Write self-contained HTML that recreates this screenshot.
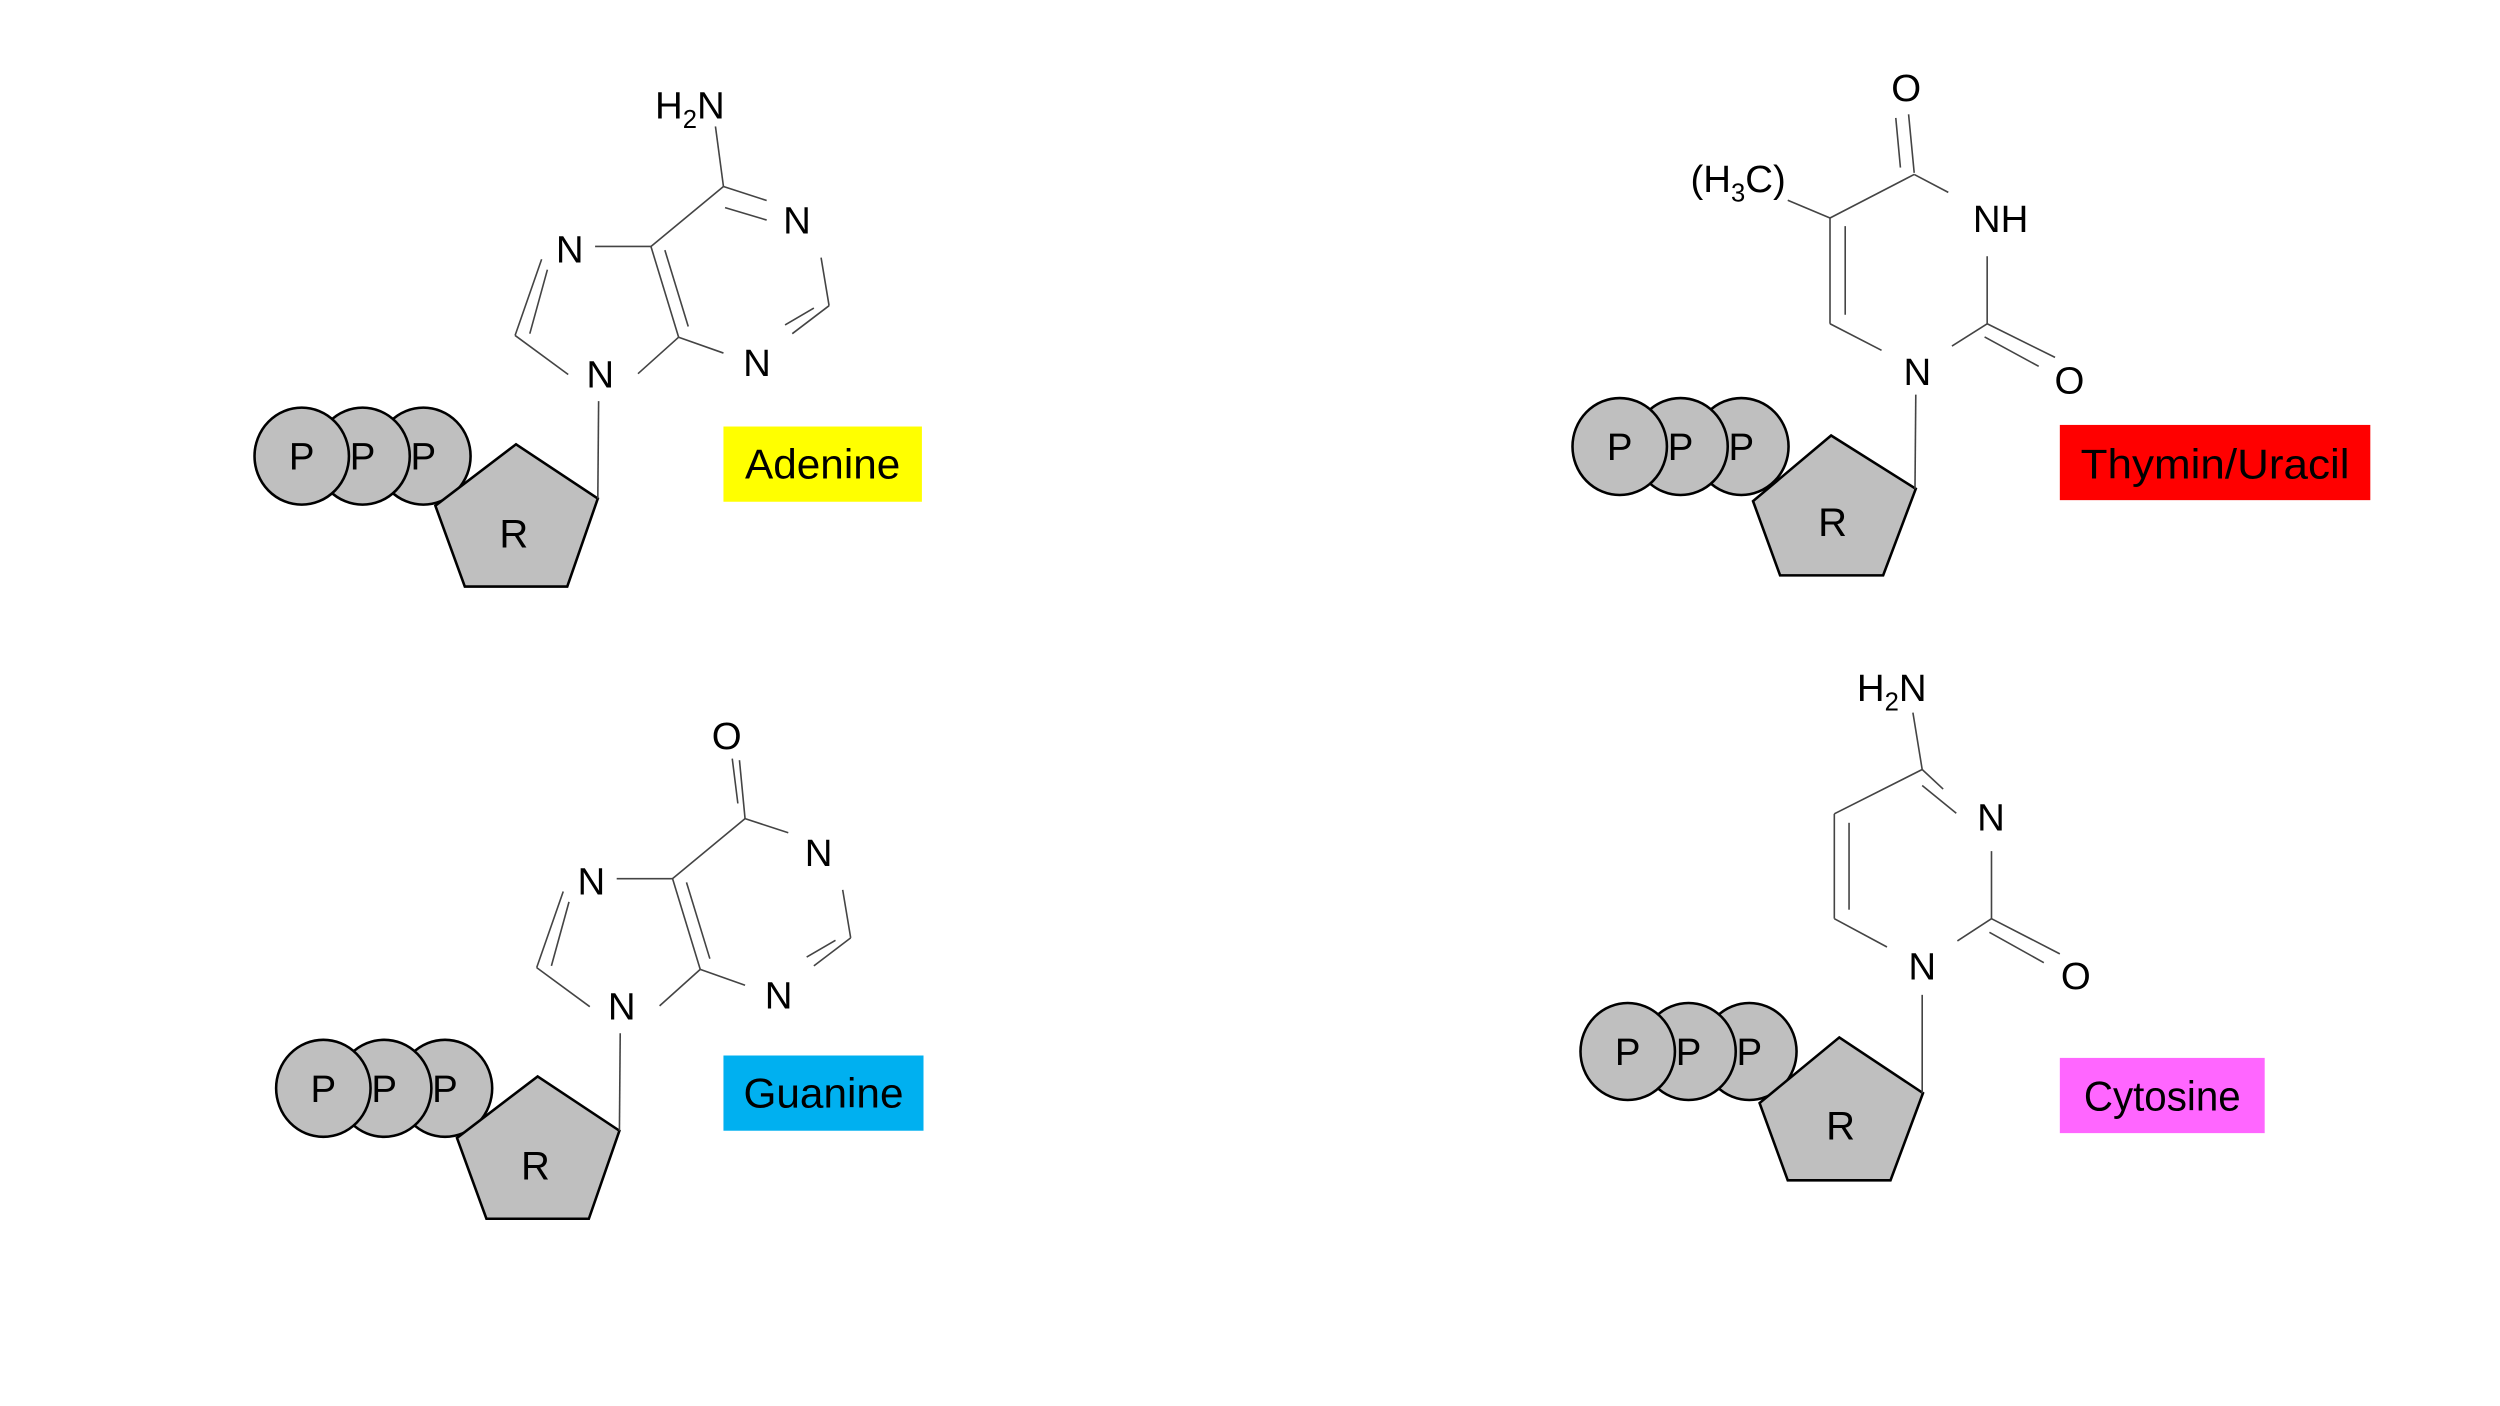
<!DOCTYPE html>
<html><head><meta charset="utf-8"><style>
html,body{margin:0;padding:0;background:#fff;}
svg{display:block;}
text{font-family:"Liberation Sans",sans-serif;fill:#000;}
</style></head><body>
<svg width="2500" height="1406" viewBox="0 0 1562 878.5" xmlns="http://www.w3.org/2000/svg">
<rect width="1562" height="878.5" fill="#fff"/>
<defs>
<g id="ppp">
  <ellipse cx="76" cy="0" rx="29.5" ry="30.3" fill="#bfbfbf" stroke="#000" stroke-width="1.6"/>
  <ellipse cx="38" cy="0" rx="29.5" ry="30.3" fill="#bfbfbf" stroke="#000" stroke-width="1.6"/>
  <ellipse cx="0" cy="0" rx="29.5" ry="30.3" fill="#bfbfbf" stroke="#000" stroke-width="1.6"/>
  <text x="0" y="8.5" font-size="24" text-anchor="middle">P</text>
  <text x="38" y="8.5" font-size="24" text-anchor="middle">P</text>
  <text x="76" y="8.5" font-size="24" text-anchor="middle">P</text>
</g>
</defs>
<g transform="translate(-2,-2)">
<!-- ============ ADENINE ============ -->
<g>
<use href="#ppp" x="190.5" y="287"/>
<polygon points="324.4,279.6 375.5,313.5 356.4,368.5 292.4,368.5 274,318" fill="#bfbfbf" stroke="#000" stroke-width="1.6" stroke-linejoin="miter"/>
<text x="323" y="344" font-size="25" text-anchor="middle">R</text>
<g stroke="#444" stroke-width="1" fill="none">
<line x1="376" y1="252.6" x2="375.5" y2="313.5"/>
<line x1="449" y1="81" x2="454" y2="118.5"/>
<line x1="454" y1="118.5" x2="481" y2="127.3"/>
<line x1="455" y1="131.7" x2="481" y2="139.5"/>
<line x1="515" y1="163" x2="520" y2="193"/>
<line x1="520" y1="193" x2="497" y2="210.5"/>
<line x1="510.5" y1="194.5" x2="492.5" y2="205"/>
<line x1="426" y1="212.7" x2="454" y2="222.6"/>
<line x1="408.7" y1="156" x2="426" y2="212.7"/>
<line x1="417.4" y1="158.3" x2="432" y2="206"/>
<line x1="408.7" y1="156" x2="454" y2="118.5"/>
<line x1="408.7" y1="156" x2="373.8" y2="156"/>
<line x1="340.4" y1="164" x2="323.8" y2="211.6"/>
<line x1="344" y1="170.5" x2="333" y2="210.5"/>
<line x1="323.8" y1="211.6" x2="357" y2="236"/>
<line x1="400.6" y1="235.5" x2="426" y2="212.7"/>
</g>
<text x="433" y="76" font-size="24" text-anchor="middle">H<tspan font-size="16" dy="6">2</tspan><tspan font-size="24" dy="-6">N</tspan></text>
<text x="500" y="148" font-size="24" text-anchor="middle">N</text>
<text x="475" y="237" font-size="24" text-anchor="middle">N</text>
<text x="358" y="166" font-size="24" text-anchor="middle">N</text>
<text x="377" y="244" font-size="24" text-anchor="middle">N</text>
<rect x="454" y="268.5" width="124" height="47" fill="#ffff00"/>
<text x="516" y="301" font-size="26" text-anchor="middle" textLength="97" lengthAdjust="spacingAndGlyphs">Adenine</text>
</g>

<!-- ============ GUANINE ============ -->
<g>
<g transform="translate(13.5,395)">
<use href="#ppp" x="190.5" y="287"/>
<polygon points="324.4,279.6 375.5,313.5 356.4,368.5 292.4,368.5 274,318" fill="#bfbfbf" stroke="#000" stroke-width="1.6"/>
<text x="323" y="344" font-size="25" text-anchor="middle">R</text>
<g stroke="#444" stroke-width="1" fill="none">
<line x1="376" y1="252.6" x2="375.5" y2="313.5"/>
<line x1="454" y1="118.5" x2="481" y2="127.3"/>
<line x1="515" y1="163" x2="520" y2="193"/>
<line x1="520" y1="193" x2="497" y2="210.5"/>
<line x1="510.5" y1="194.5" x2="492.5" y2="205"/>
<line x1="426" y1="212.7" x2="454" y2="222.6"/>
<line x1="408.7" y1="156" x2="426" y2="212.7"/>
<line x1="417.4" y1="158.3" x2="432" y2="206"/>
<line x1="408.7" y1="156" x2="454" y2="118.5"/>
<line x1="408.7" y1="156" x2="373.8" y2="156"/>
<line x1="340.4" y1="164" x2="323.8" y2="211.6"/>
<line x1="344" y1="170.5" x2="333" y2="210.5"/>
<line x1="323.8" y1="211.6" x2="357" y2="236"/>
<line x1="400.6" y1="235.5" x2="426" y2="212.7"/>
<line x1="454" y1="118.5" x2="450.5" y2="82"/>
<line x1="449.5" y1="109" x2="446" y2="81"/>
</g>
<text x="500" y="148" font-size="24" text-anchor="middle">N</text>
<text x="475" y="237" font-size="24" text-anchor="middle">N</text>
<text x="358" y="166" font-size="24" text-anchor="middle">N</text>
<text x="377" y="244" font-size="24" text-anchor="middle">N</text>
</g>
<text x="456" y="470" font-size="24" text-anchor="middle">O</text>
<rect x="454" y="661.5" width="125" height="47" fill="#00b0f0"/>
<text x="516.5" y="694" font-size="26" text-anchor="middle" textLength="100" lengthAdjust="spacingAndGlyphs">Guanine</text>
</g>

<g transform="translate(-2,-1)">
<!-- ============ THYMINE ============ -->
<g>
<use href="#ppp" x="1016" y="282"/>
<polygon points="1148.1,275.1 1201,308.4 1180.6,362.5 1116.2,362.5 1099.3,316.1" fill="#bfbfbf" stroke="#000" stroke-width="1.6"/>
<text x="1149" y="338" font-size="25" text-anchor="middle">R</text>
<g stroke="#444" stroke-width="1" fill="none">
<line x1="1201" y1="249.6" x2="1200.5" y2="308.4"/>
<line x1="1200" y1="111" x2="1196.5" y2="74.4"/>
<line x1="1191.4" y1="107.7" x2="1188.5" y2="76.7"/>
<line x1="1200" y1="112" x2="1221.3" y2="123.2"/>
<line x1="1245.6" y1="163.1" x2="1245.6" y2="205.3"/>
<line x1="1245.6" y1="205.3" x2="1288" y2="226.3"/>
<line x1="1244" y1="213.5" x2="1277.8" y2="231.9"/>
<line x1="1245.6" y1="205.3" x2="1223.6" y2="219.2"/>
<line x1="1179.6" y1="221.9" x2="1147.4" y2="205.3"/>
<line x1="1147.4" y1="205.3" x2="1147.4" y2="139.2"/>
<line x1="1156.9" y1="199.7" x2="1156.9" y2="144.3"/>
<line x1="1147.4" y1="139.2" x2="1200" y2="112"/>
<line x1="1147.4" y1="139.2" x2="1121" y2="128.1"/>
</g>
<text x="1195" y="66" font-size="24" text-anchor="middle">O</text>
<text x="1090" y="123" font-size="24" text-anchor="middle">(H<tspan font-size="16" dy="6">3</tspan><tspan font-size="24" dy="-6">C)</tspan></text>
<text x="1254" y="148" font-size="24" text-anchor="middle">NH</text>
<text x="1297" y="249" font-size="24" text-anchor="middle">O</text>
<text x="1202" y="243.5" font-size="24" text-anchor="middle">N</text>
<rect x="1291" y="268.5" width="194" height="47" fill="#ff0000"/>
<text x="1388" y="302" font-size="26" text-anchor="middle" textLength="168" lengthAdjust="spacingAndGlyphs">Thymin/Uracil</text>
</g>

<!-- ============ CYTOSINE ============ -->
<g>
<use href="#ppp" x="1021" y="660"/>
<polygon points="1153.2,651.2 1205.5,686 1185.2,740.5 1121,740.5 1103.4,692.2" fill="#bfbfbf" stroke="#000" stroke-width="1.6"/>
<text x="1154" y="715" font-size="25" text-anchor="middle">R</text>
<g stroke="#444" stroke-width="1" fill="none">
<line x1="1205" y1="624.6" x2="1205" y2="686"/>
<line x1="1199.2" y1="448.3" x2="1205" y2="483.8"/>
<line x1="1205" y1="483.8" x2="1218.1" y2="496"/>
<line x1="1205" y1="493.8" x2="1226.3" y2="511.1"/>
<line x1="1248.3" y1="534.8" x2="1248.3" y2="577"/>
<line x1="1248.3" y1="577" x2="1291" y2="599"/>
<line x1="1247" y1="585.5" x2="1281" y2="604.5"/>
<line x1="1248.3" y1="577" x2="1227" y2="590.9"/>
<line x1="1183" y1="594.7" x2="1150.1" y2="577"/>
<line x1="1150.1" y1="577" x2="1150.1" y2="511.5"/>
<line x1="1159.3" y1="571.4" x2="1159.3" y2="517.1"/>
<line x1="1150.1" y1="511.5" x2="1205" y2="483.8"/>
</g>
<text x="1186" y="441" font-size="24" text-anchor="middle">H<tspan font-size="16" dy="6">2</tspan><tspan font-size="24" dy="-6">N</tspan></text>
<text x="1248" y="522" font-size="24" text-anchor="middle">N</text>
<text x="1301" y="621" font-size="24" text-anchor="middle">O</text>
<text x="1205" y="615" font-size="24" text-anchor="middle">N</text>
<rect x="1291" y="664" width="128" height="47" fill="#ff66ff"/>
<text x="1355" y="697" font-size="26" text-anchor="middle" textLength="98" lengthAdjust="spacingAndGlyphs">Cytosine</text>
</g>
</g>
</g>
</svg>
</body></html>
